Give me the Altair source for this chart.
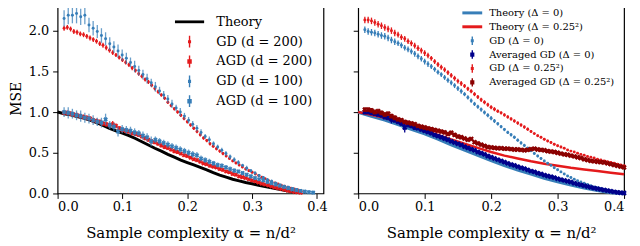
import altair as alt
import pandas as pd

# ---------------- data ----------------
A200 = [round(0.01 + 0.005 * i, 4) for i in range(74)]
A100 = [round(0.01 + 0.0064 * i, 4) for i in range(61)]
AR = [round(0.01 + 0.005 * i, 4) for i in range(79)]

TH_L_A = [round(0.01 * i, 2) for i in range(38)]
TH_L_V = [1.00, 0.98, 0.965, 0.945, 0.925, 0.90, 0.87, 0.835, 0.80, 0.77,
          0.74, 0.71, 0.675, 0.635, 0.595, 0.555, 0.52, 0.48, 0.445, 0.41,
          0.38, 0.35, 0.32, 0.29, 0.255, 0.225, 0.20, 0.175, 0.155, 0.135,
          0.12, 0.10, 0.085, 0.07, 0.055, 0.04, 0.025, 0.01]

GD200_V = [2.03, 2.04, 2.02, 1.99, 1.98, 1.96, 1.95, 1.93, 1.91, 1.89,
           1.87, 1.84, 1.82, 1.79, 1.76, 1.73, 1.70, 1.67, 1.64, 1.61,
           1.58, 1.54, 1.51, 1.47, 1.44, 1.40, 1.37, 1.33, 1.29, 1.25,
           1.21, 1.17, 1.12, 1.08, 1.04, 1.00, 0.96, 0.92, 0.88, 0.84,
           0.80, 0.76, 0.72, 0.68, 0.65, 0.61, 0.58, 0.55, 0.52, 0.49,
           0.46, 0.43, 0.40, 0.375, 0.35, 0.325, 0.30, 0.28, 0.26, 0.24,
           0.22, 0.20, 0.18, 0.16, 0.145, 0.13, 0.115, 0.10, 0.09, 0.075,
           0.065, 0.055, 0.045, 0.035]
GD200_E = [0.03, 0.03, 0.03, 0.03, 0.03, 0.03, 0.03, 0.03, 0.03, 0.03,
           0.03, 0.03, 0.03, 0.03, 0.03, 0.03, 0.025, 0.025, 0.025, 0.025,
           0.025, 0.025, 0.025, 0.025, 0.025, 0.025, 0.025, 0.025, 0.025, 0.025,
           0.02, 0.02, 0.02, 0.02, 0.02, 0.02, 0.02, 0.02, 0.02, 0.02,
           0.02, 0.02, 0.02, 0.02, 0.02, 0.02, 0.02, 0.02, 0.02, 0.02,
           0.015, 0.015, 0.015, 0.015, 0.015, 0.015, 0.015, 0.015, 0.015, 0.015,
           0.015, 0.015, 0.01, 0.01, 0.01, 0.01, 0.01, 0.01, 0.01, 0.01,
           0.01, 0.01, 0.01, 0.01]

AGD200_V = [0.99, 0.99, 0.98, 0.97, 0.96, 0.95, 0.94, 0.93, 0.92, 0.90,
            0.89, 0.88, 0.86, 0.85, 0.84, 0.85, 0.83, 0.80, 0.78, 0.77,
            0.76, 0.74, 0.73, 0.72, 0.70, 0.68, 0.66, 0.64, 0.63, 0.61,
            0.59, 0.57, 0.56, 0.54, 0.52, 0.51, 0.49, 0.47, 0.46, 0.44,
            0.42, 0.41, 0.39, 0.37, 0.36, 0.34, 0.33, 0.32, 0.30, 0.29,
            0.27, 0.26, 0.24, 0.23, 0.21, 0.20, 0.19, 0.175, 0.16, 0.15,
            0.135, 0.12, 0.11, 0.10, 0.085, 0.075, 0.065, 0.055, 0.045, 0.035,
            0.028, 0.02, 0.015, 0.01]
AGD200_E = [0.03, 0.03, 0.03, 0.03, 0.03, 0.03, 0.03, 0.03, 0.03, 0.03,
            0.03, 0.03, 0.03, 0.03, 0.03, 0.04, 0.03, 0.03, 0.03, 0.03,
            0.025, 0.025, 0.025, 0.025, 0.025, 0.025, 0.025, 0.025, 0.025, 0.025,
            0.025, 0.025, 0.025, 0.025, 0.025, 0.025, 0.02, 0.02, 0.02, 0.02,
            0.02, 0.02, 0.02, 0.02, 0.02, 0.02, 0.02, 0.02, 0.02, 0.02,
            0.02, 0.02, 0.02, 0.02, 0.015, 0.015, 0.015, 0.015, 0.015, 0.015,
            0.015, 0.015, 0.015, 0.015, 0.01, 0.01, 0.01, 0.01, 0.01, 0.01,
            0.01, 0.01, 0.01, 0.01]

GD100_V = [2.15, 2.19, 2.19, 2.21, 2.17, 2.19, 2.07, 2.03, 1.99, 1.94,
           1.90, 1.84, 1.80, 1.75, 1.70, 1.66, 1.61, 1.56, 1.51, 1.46,
           1.41, 1.36, 1.31, 1.26, 1.21, 1.16, 1.10, 1.05, 1.00, 0.95,
           0.90, 0.85, 0.80, 0.75, 0.70, 0.66, 0.61, 0.57, 0.53, 0.49,
           0.45, 0.415, 0.38, 0.345, 0.31, 0.28, 0.25, 0.22, 0.195, 0.17,
           0.15, 0.125, 0.105, 0.09, 0.075, 0.06, 0.048, 0.037, 0.028, 0.02,
           0.014]
GD100_E = [0.10, 0.11, 0.10, 0.12, 0.10, 0.11, 0.09, 0.09, 0.08, 0.09,
           0.08, 0.08, 0.07, 0.08, 0.07, 0.07, 0.06, 0.07, 0.06, 0.06,
           0.06, 0.05, 0.06, 0.05, 0.05, 0.05, 0.05, 0.04, 0.05, 0.04,
           0.04, 0.04, 0.04, 0.04, 0.03, 0.04, 0.03, 0.03, 0.03, 0.03,
           0.03, 0.03, 0.03, 0.02, 0.03, 0.02, 0.02, 0.02, 0.02, 0.02,
           0.02, 0.02, 0.015, 0.015, 0.015, 0.015, 0.01, 0.01, 0.01, 0.01,
           0.01]

AGD100_V = [1.00, 0.99, 0.98, 0.96, 0.95, 0.93, 0.92, 0.90, 0.88, 0.87,
            0.91, 0.84, 0.82, 0.76, 0.79, 0.78, 0.77, 0.75, 0.74, 0.71,
            0.69, 0.64, 0.66, 0.64, 0.62, 0.60, 0.58, 0.56, 0.54, 0.52,
            0.50, 0.48, 0.47, 0.43, 0.41, 0.39, 0.37, 0.35, 0.34, 0.32,
            0.30, 0.28, 0.27, 0.25, 0.23, 0.21, 0.19, 0.175, 0.16, 0.14,
            0.125, 0.11, 0.095, 0.08, 0.065, 0.05, 0.04, 0.03, 0.022, 0.015,
            0.01]
AGD100_E = [0.06, 0.07, 0.06, 0.06, 0.07, 0.06, 0.06, 0.06, 0.05, 0.06,
            0.07, 0.05, 0.05, 0.06, 0.05, 0.05, 0.05, 0.05, 0.04, 0.05,
            0.05, 0.06, 0.04, 0.04, 0.04, 0.04, 0.04, 0.04, 0.04, 0.04,
            0.04, 0.04, 0.04, 0.035, 0.035, 0.035, 0.03, 0.03, 0.03, 0.03,
            0.03, 0.03, 0.025, 0.025, 0.025, 0.025, 0.025, 0.02, 0.02, 0.02,
            0.02, 0.02, 0.02, 0.015, 0.015, 0.015, 0.015, 0.01, 0.01, 0.01,
            0.01]

TH_R_A = [round(0.02 * i, 2) for i in range(21)]
TH_R0_V = [1.00, 0.95, 0.905, 0.85, 0.79, 0.735, 0.67, 0.60, 0.535, 0.47,
           0.405, 0.345, 0.29, 0.24, 0.19, 0.145, 0.105, 0.07, 0.04, 0.012, 0.0]
TH_R25_V = [1.00, 0.965, 0.93, 0.88, 0.83, 0.775, 0.72, 0.665, 0.61, 0.56,
            0.51, 0.465, 0.43, 0.395, 0.365, 0.34, 0.315, 0.295, 0.275, 0.255, 0.235]

GDR0_V = [2.01, 1.99, 1.98, 1.97, 1.955, 1.94, 1.93, 1.91, 1.885, 1.865,
          1.845, 1.82, 1.79, 1.77, 1.745, 1.715, 1.685, 1.655, 1.62, 1.59,
          1.56, 1.525, 1.49, 1.46, 1.425, 1.39, 1.36, 1.325, 1.29, 1.255,
          1.22, 1.18, 1.14, 1.10, 1.065, 1.03, 0.995, 0.96, 0.925, 0.89,
          0.855, 0.82, 0.785, 0.75, 0.72, 0.69, 0.655, 0.62, 0.59, 0.555,
          0.525, 0.49, 0.46, 0.43, 0.40, 0.37, 0.345, 0.315, 0.29, 0.265,
          0.24, 0.215, 0.195, 0.175, 0.155, 0.14, 0.125, 0.11, 0.095, 0.08,
          0.07, 0.06, 0.05, 0.04, 0.032, 0.025, 0.019, 0.014, 0.01]
GDR25_V = [2.13, 2.13, 2.12, 2.10, 2.08, 2.06, 2.04, 2.02, 2.00, 1.97,
           1.95, 1.92, 1.90, 1.87, 1.845, 1.815, 1.785, 1.755, 1.725, 1.695,
           1.66, 1.62, 1.585, 1.55, 1.52, 1.485, 1.45, 1.415, 1.38, 1.35,
           1.32, 1.285, 1.255, 1.22, 1.185, 1.15, 1.12, 1.09, 1.06, 1.035,
           1.01, 0.99, 0.965, 0.94, 0.915, 0.89, 0.865, 0.84, 0.815, 0.79,
           0.76, 0.735, 0.71, 0.69, 0.665, 0.645, 0.625, 0.605, 0.585, 0.57,
           0.555, 0.535, 0.52, 0.51, 0.495, 0.48, 0.47, 0.455, 0.445, 0.435,
           0.42, 0.41, 0.40, 0.39, 0.38, 0.37, 0.36, 0.35, 0.34]
GDR_E = [0.04, 0.04, 0.04, 0.04, 0.04, 0.04, 0.04, 0.04, 0.04, 0.04,
         0.035, 0.035, 0.035, 0.035, 0.035, 0.035, 0.035, 0.035, 0.035, 0.035,
         0.03, 0.03, 0.03, 0.03, 0.03, 0.03, 0.03, 0.03, 0.03, 0.03,
         0.025, 0.025, 0.025, 0.025, 0.025, 0.025, 0.025, 0.025, 0.025, 0.025,
         0.02, 0.02, 0.02, 0.02, 0.02, 0.02, 0.02, 0.02, 0.02, 0.02,
         0.015, 0.015, 0.015, 0.015, 0.015, 0.015, 0.015, 0.015, 0.015, 0.015,
         0.01, 0.01, 0.01, 0.01, 0.01, 0.01, 0.01, 0.01, 0.01, 0.01,
         0.01, 0.01, 0.01, 0.01, 0.01, 0.01, 0.01, 0.01, 0.01]

AVG0_V = [1.00, 1.00, 0.99, 0.98, 0.97, 0.96, 0.94, 0.93, 0.91, 0.90,
          0.88, 0.86, 0.81, 0.84, 0.83, 0.81, 0.80, 0.785, 0.77, 0.755,
          0.74, 0.72, 0.705, 0.69, 0.675, 0.66, 0.64, 0.625, 0.61, 0.595,
          0.575, 0.56, 0.545, 0.53, 0.51, 0.495, 0.48, 0.46, 0.445, 0.43,
          0.415, 0.40, 0.385, 0.37, 0.355, 0.345, 0.33, 0.315, 0.305, 0.29,
          0.275, 0.265, 0.25, 0.24, 0.225, 0.215, 0.205, 0.195, 0.18, 0.17,
          0.16, 0.15, 0.14, 0.125, 0.115, 0.105, 0.095, 0.085, 0.075, 0.065,
          0.058, 0.05, 0.042, 0.035, 0.027, 0.02, 0.013, 0.008, 0.005]
AVG0_E = [0.03, 0.03, 0.03, 0.03, 0.03, 0.03, 0.03, 0.03, 0.05, 0.03,
          0.03, 0.03, 0.06, 0.03, 0.03, 0.03, 0.025, 0.025, 0.025, 0.025,
          0.025, 0.025, 0.025, 0.025, 0.025, 0.025, 0.02, 0.02, 0.02, 0.02,
          0.02, 0.02, 0.02, 0.02, 0.02, 0.02, 0.02, 0.02, 0.02, 0.02,
          0.015, 0.015, 0.015, 0.015, 0.015, 0.015, 0.015, 0.015, 0.015, 0.015,
          0.015, 0.015, 0.015, 0.015, 0.015, 0.015, 0.015, 0.015, 0.015, 0.015,
          0.01, 0.01, 0.01, 0.01, 0.01, 0.01, 0.01, 0.01, 0.01, 0.01,
          0.01, 0.01, 0.01, 0.01, 0.01, 0.01, 0.01, 0.01, 0.01]

AVG25_V = [1.03, 1.03, 1.02, 1.00, 1.01, 0.99, 0.97, 0.98, 0.95, 0.93,
           0.91, 0.90, 0.88, 0.87, 0.86, 0.85, 0.83, 0.82, 0.81, 0.80,
           0.79, 0.78, 0.77, 0.76, 0.75, 0.73, 0.745, 0.72, 0.70, 0.69,
           0.675, 0.66, 0.67, 0.63, 0.615, 0.60, 0.585, 0.57, 0.565, 0.56,
           0.555, 0.555, 0.55, 0.55, 0.545, 0.54, 0.54, 0.535, 0.53, 0.535,
           0.545, 0.55, 0.54, 0.535, 0.53, 0.52, 0.515, 0.51, 0.50, 0.49,
           0.48, 0.475, 0.465, 0.455, 0.445, 0.435, 0.42, 0.41, 0.40, 0.395,
           0.39, 0.385, 0.38, 0.37, 0.36, 0.35, 0.34, 0.33, 0.32]
AVG25_E = [0.03, 0.03, 0.03, 0.03, 0.03, 0.03, 0.03, 0.03, 0.03, 0.03,
           0.025, 0.025, 0.025, 0.025, 0.025, 0.025, 0.025, 0.025, 0.025, 0.025,
           0.025, 0.025, 0.025, 0.025, 0.025, 0.025, 0.025, 0.025, 0.025, 0.025,
           0.02, 0.02, 0.02, 0.02, 0.02, 0.02, 0.02, 0.02, 0.02, 0.02,
           0.02, 0.02, 0.02, 0.02, 0.02, 0.02, 0.02, 0.02, 0.02, 0.02,
           0.02, 0.02, 0.02, 0.02, 0.02, 0.02, 0.02, 0.02, 0.02, 0.02,
           0.015, 0.015, 0.015, 0.015, 0.015, 0.015, 0.015, 0.015, 0.015, 0.015,
           0.015, 0.015, 0.015, 0.015, 0.015, 0.015, 0.015, 0.015, 0.015]

LEFT_NAMES = ["Theory", "GD (d = 200)", "AGD (d = 200)", "GD (d = 100)", "AGD (d = 100)"]
RIGHT_NAMES = ["Theory (Δ = 0)", "Theory (Δ = 0.25²)", "GD (Δ = 0)",
               "Averaged GD (Δ = 0)", "GD (Δ = 0.25²)", "Averaged GD (Δ = 0.25²)"]
Y_TICKS = [0.0, 0.5, 1.0, 1.5, 2.0]
X_TICKS = [0.0, 0.1, 0.2, 0.3, 0.4]

# ---------------- style ----------------
RED = "#e41a1c"
BLUE = "#377eb8"
NAVY = "#00008b"
DARKRED = "#8b0000"
FONT = "DejaVu Serif"

YS = alt.Scale(domain=[0, 2.34], nice=False, zero=False)


def xenc(field, dom):
    return alt.X(field, type="quantitative", scale=alt.Scale(domain=dom, nice=False, zero=False),
                 axis=alt.Axis(values=X_TICKS, format=".1f"),
                 title="Sample complexity α = n/d²")


def yenc(field, labels):
    if labels:
        ax = alt.Axis(values=Y_TICKS, format=".1f", titleFontSize=14)
        return alt.Y(field, type="quantitative", scale=YS, axis=ax, title="MSE")
    ax = alt.Axis(values=Y_TICKS, labels=False)
    return alt.Y(field, type="quantitative", scale=YS, axis=ax, title=None)


def frame(a, v, e):
    return pd.DataFrame({"a": a, "v": v,
                         "lo": [vi - ei for vi, ei in zip(v, e)],
                         "hi": [vi + ei for vi, ei in zip(v, e)]})


def series_layers(df, color, marker, dom, labels, rule_op=1.0, xsize=22):
    base = alt.Chart(df)
    rules = base.mark_rule(color=color, strokeWidth=1.3, opacity=rule_op).encode(
        x=xenc("a", dom), y=yenc("lo", labels), y2="hi")
    if marker == "dot":
        pts = base.mark_circle(color=color, size=9, opacity=1)
    else:
        pts = base.mark_point(shape="cross", angle=45, filled=True, color=color, size=xsize, opacity=1)
    pts = pts.encode(x=xenc("a", dom), y=yenc("v", labels))
    return [rules, pts]


def line_layer(a, v, color, width, dom, labels):
    df = pd.DataFrame({"a": a, "v": v})
    return alt.Chart(df).mark_line(color=color, strokeWidth=width).encode(
        x=xenc("a", dom), y=yenc("v", labels))


def legend_layer(names, colors, shapes, field, dom, labels, legend):
    df = pd.DataFrame({field: names, "a": [None] * len(names), "v": [None] * len(names)})
    return alt.Chart(df).mark_point(filled=True, opacity=1).encode(
        x=xenc("a", dom), y=yenc("v", labels),
        color=alt.Color(field + ":N", scale=alt.Scale(domain=names, range=colors), legend=legend),
        shape=alt.Shape(field + ":N", scale=alt.Scale(domain=names, range=shapes), legend=legend),
    )


# legend glyphs (unit box paths)
L_LINE = "M-2.1,-0.2H2.1V0.2H-2.1Z"
L_GD = "M-0.1,-0.85H0.1V0.85H-0.1Z M-0.22,-0.22H0.22V0.22H-0.22Z"
L_AGD = "M-0.1,-0.85H0.1V0.85H-0.1Z M-0.32,-0.32H0.32V0.32H-0.32Z"

R_LINE = "M-2,-0.3H2V0.3H-2Z"
R_GD = "M-0.14,-0.85H0.14V0.85H-0.14Z M-0.3,-0.3H0.3V0.3H-0.3Z"
R_AGD = "M-0.14,-0.85H0.14V0.85H-0.14Z M-0.42,-0.42H0.42V0.42H-0.42Z"

DOM_L = [0, 0.41]
DOM_R = [0, 0.40]

left_legend = alt.Legend(title=None, orient="none", legendX=126, legendY=12,
                         symbolSize=196, symbolStrokeWidth=0, symbolOpacity=1,
                         labelFont=FONT, labelFontSize=13, labelColor="black",
                         labelOffset=20, rowPadding=6)
right_legend = alt.Legend(title=None, orient="none", legendX=110, legendY=5,
                          symbolSize=100, symbolStrokeWidth=0, symbolOpacity=1,
                          labelFont=FONT, labelFontSize=10, labelColor="black",
                          labelOffset=12, rowPadding=4)

left_layers = [line_layer(TH_L_A, TH_L_V, "black", 3, DOM_L, True)]
left_layers += series_layers(frame(A200, GD200_V, GD200_E), RED, "dot", DOM_L, True)
left_layers += series_layers(frame(A200, AGD200_V, AGD200_E), RED, "x", DOM_L, True)
left_layers += series_layers(frame(A100, GD100_V, GD100_E), BLUE, "dot", DOM_L, True, 0.75)
left_layers += series_layers(frame(A100, AGD100_V, AGD100_E), BLUE, "x", DOM_L, True, 0.75)
left_layers.append(legend_layer(LEFT_NAMES, ["black", RED, RED, BLUE, BLUE],
                                [L_LINE, L_GD, L_AGD, L_GD, L_AGD], "sl", DOM_L, True, left_legend))

right_layers = [line_layer(TH_R_A, TH_R0_V, BLUE, 3.5, DOM_R, False),
                line_layer(TH_R_A, TH_R25_V, RED, 2.5, DOM_R, False)]
right_layers += series_layers(frame(AR, GDR0_V, GDR_E), BLUE, "dot", DOM_R, False)
right_layers += series_layers(frame(AR, AVG0_V, AVG0_E), NAVY, "x", DOM_R, False, 1.0, 30)
right_layers += series_layers(frame(AR, GDR25_V, GDR_E), RED, "dot", DOM_R, False)
right_layers += series_layers(frame(AR, AVG25_V, AVG25_E), DARKRED, "x", DOM_R, False, 1.0, 30)
right_layers.append(legend_layer(RIGHT_NAMES, [BLUE, RED, BLUE, NAVY, RED, DARKRED],
                                 [R_LINE, R_LINE, R_GD, R_AGD, R_GD, R_AGD], "sr", DOM_R, False,
                                 right_legend))

left = alt.layer(*left_layers).properties(width=268, height=192)
right = alt.layer(*right_layers).properties(width=268, height=192)

chart = alt.hconcat(left, right, spacing=22).resolve_scale(
    color="independent", shape="independent", x="independent"
).properties(
    padding={"left": 0, "top": -7, "right": 0, "bottom": 0}
).configure_view(
    stroke="black", strokeWidth=1.2
).configure_axis(
    domain=False, grid=False, ticks=True, tickColor="black", tickSize=5, tickWidth=1,
    labelFont=FONT, labelFontSize=13, labelColor="black", labelPadding=4,
    titleFont=FONT, titleFontSize=15, titleFontWeight="normal", titleColor="black",
).configure_axisX(titlePadding=12, labelPadding=2).configure_axisY(titlePadding=5)

chart.save("out.html", embed_options={"renderer": "svg", "actions": False})
